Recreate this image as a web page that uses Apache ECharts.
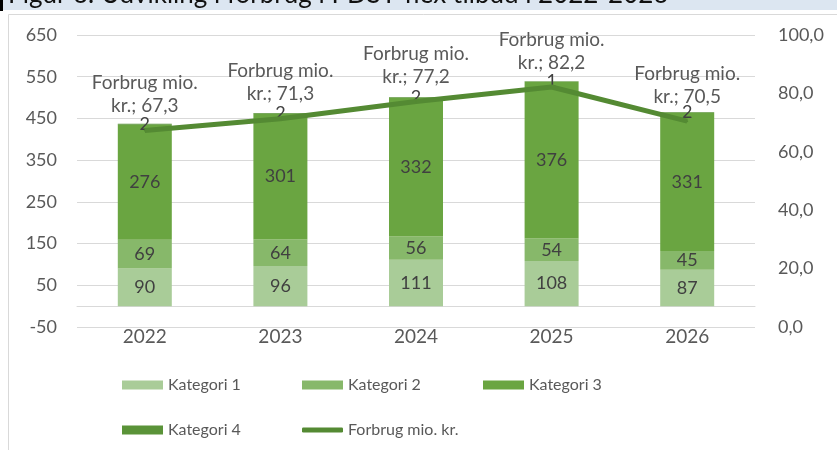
<!DOCTYPE html>
<html>
<head>
<meta charset="utf-8">
<script src="https://cdn.jsdelivr.net/npm/echarts@6/dist/echarts.min.js"></script>
<style>
  html, body { margin: 0; padding: 0; background: #fff; }
  #chart { width: 837px; height: 450px; }
</style>
</head>
<body>
<div id="chart"></div>
<script>
// data
var years = ['2022', '2023', '2024', '2025', '2026'];
var kat1 = [90, 96, 111, 108, 87];
var kat2 = [69, 64, 56, 54, 45];
var kat3 = [276, 301, 332, 376, 331];
var kat4 = [2, 2, 2, 1, 2];
var forbrug = [67.3, 71.3, 77.2, 82.2, 70.5];
var leftTicks = { min: -50, max: 650, interval: 100 };
var rightTicks = { min: 0, max: 100, interval: 20 };
var titleText = 'Figur 6. Udvikling i forbrug i PDST-flex tilbud i 2022-2026';

var font = 'Lato, "Open Sans", sans-serif';
var grey = '#595959';
var gridGrey = '#d9d9d9';

function komma(v, d) {
    return v.toFixed(d).replace('.', ',');
}

var chartDom = document.getElementById('chart');
var myChart = echarts.init(chartDom);

function barSeries(name, data, color) {
    return {
        name: name,
        type: 'bar',
        stack: 'total',
        data: data,
        barWidth: 54,
        itemStyle: { color: color },
        label: {
            show: true,
            position: 'inside',
            color: '#404040',
            fontFamily: font,
            fontSize: 18
        },
        z: 2
    };
}

// one legend per entry so the columns line up like the original
function legendItem(name, left, top, opts) {
    var l = {
        left: left, top: top, itemWidth: 41, itemHeight: 9,
        icon: 'rect',
        textStyle: { color: grey, fontFamily: font, fontSize: 16 },
        data: [name]
    };
    return Object.assign(l, opts || {});
}

var option = {
    animation: false,
    textStyle: { fontFamily: font },
    graphic: [
        // cut-off caption strip at the very top
        { type: 'rect', left: 0, top: 0, shape: { width: 837, height: 10 }, style: { fill: '#dce6f1' } },
        { type: 'text', left: 8, top: -18, style: { text: titleText, fill: '#111', font: '26px ' + font } },
        { type: 'rect', left: 0, top: 0, shape: { width: 3, height: 11 }, style: { fill: '#000' } },
        // chart frame
        { type: 'rect', left: 6, top: 12, shape: { width: 900, height: 500 }, style: { fill: 'none', stroke: gridGrey, lineWidth: 1 } }
    ],
    grid: { left: 77, right: 82, top: 35, bottom: 123 },
    legend: [
        legendItem('Kategori 1', 117, 372),
        legendItem('Kategori 2', 297, 372),
        legendItem('Kategori 3', 478, 372),
        legendItem('Kategori 4', 117, 417),
        legendItem('Forbrug mio. kr.', 297, 417, { itemHeight: 5, icon: 'roundRect' })
    ],
    xAxis: {
        type: 'category',
        data: years,
        axisTick: { show: false },
        axisLine: { onZero: true, lineStyle: { color: gridGrey } },
        axisLabel: { color: grey, fontSize: 19, fontFamily: font, margin: 0 }
    },
    yAxis: [
        {
            type: 'value',
            min: leftTicks.min, max: leftTicks.max, interval: leftTicks.interval,
            axisLabel: { color: grey, fontSize: 18, fontFamily: font, margin: 20 },
            splitLine: { lineStyle: { color: gridGrey } },
            axisLine: { show: false }, axisTick: { show: false }
        },
        {
            type: 'value',
            min: rightTicks.min, max: rightTicks.max, interval: rightTicks.interval,
            axisLabel: {
                color: grey, fontSize: 18, fontFamily: font, margin: 23,
                formatter: function (v) { return komma(v, 1); }
            },
            splitLine: { show: false },
            axisLine: { show: false }, axisTick: { show: false }
        }
    ],
    series: [
        barSeries('Kategori 1', kat1, '#a9cc98'),
        barSeries('Kategori 2', kat2, '#87b86a'),
        barSeries('Kategori 3', kat3, '#6aa541'),
        barSeries('Kategori 4', kat4, '#5a9338'),
        {
            name: 'Forbrug mio. kr.',
            type: 'line',
            yAxisIndex: 1,
            data: forbrug,
            symbol: 'circle',
            symbolSize: 2,
            itemStyle: { color: '#548a33' },
            lineStyle: { color: '#548a33', width: 5 },
            label: {
                show: true,
                position: 'top',
                distance: 12,
                color: grey,
                fontFamily: font,
                fontSize: 19,
                lineHeight: 23,
                formatter: function (p) { return 'Forbrug mio.\nkr.; ' + komma(p.value, 1); }
            },
            z: 3
        }
    ]
};

option && myChart.setOption(option);
</script>
</body>
</html>
